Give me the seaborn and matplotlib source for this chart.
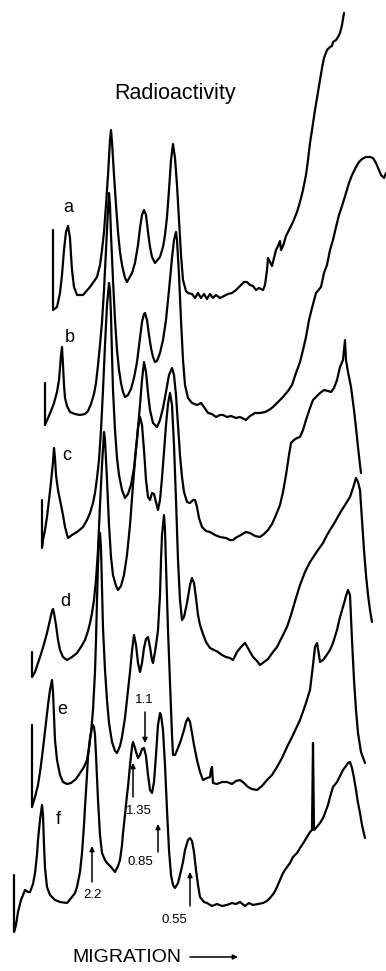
import matplotlib
matplotlib.use("Agg")
import matplotlib.pyplot as plt
import seaborn as sns
import pandas as pd

# ---- data: traces (migration position, signal level on the sheet) ----
a_x = [53, 53, 57, 60, 62, 64, 66, 68, 70, 71, 72, 74, 77, 83, 90, 97, 100, 102, 104, 106, 108, 110, 111, 112, 114, 116, 118,
       120, 122, 125, 127, 132, 135, 138, 140, 142, 144, 146, 148, 150, 152, 155, 160, 163, 165, 167, 169, 171, 173, 175, 177,
       179, 181, 183, 186, 188, 192, 195, 198, 201, 204, 207, 210, 213, 216, 220, 224, 228, 232, 236, 240, 244, 247, 250, 253,
       256, 259, 263, 265, 267, 268, 270, 272, 274, 276, 278, 280, 281, 283, 286, 290, 293, 297, 300, 303, 306, 308, 310, 312,
       315, 318, 320, 322, 324, 327, 330, 332, 333, 336, 338, 340, 342, 344]
a_y = [230, 310, 307, 293, 275, 250, 232, 226, 238, 255, 270, 287, 295, 295, 287, 277, 265, 250, 232, 205, 175, 140, 130, 142,
       175, 205, 232, 252, 265, 278, 282, 273, 263, 245, 228, 215, 210, 215, 232, 247, 257, 263, 257, 247, 235, 217, 190, 160,
       144, 158, 185, 220, 255, 280, 291, 293, 294, 298, 293, 298, 294, 299, 294, 298, 295, 298, 296, 294, 293, 290, 286, 282,
       282, 285, 286, 290, 288, 290, 285, 270, 258, 262, 266, 258, 250, 246, 241, 250, 246, 236, 228, 222, 212, 202, 190, 175,
       160, 143, 130, 110, 92, 80, 68, 58, 50, 47, 46, 42, 40, 37, 33, 25, 13]

b_x = [45, 45, 48, 51, 54, 57, 59, 60, 61, 62, 63, 64, 65, 67, 70, 75, 80, 85, 88, 91, 94, 96, 98, 100, 102, 104, 106, 108,
       109, 110, 111, 113, 115, 117, 119, 121, 123, 125, 128, 131, 134, 137, 140, 142, 144, 145, 147, 149, 151, 153, 155, 157,
       160, 163, 166, 169, 172, 174, 176, 177, 179, 181, 183, 185, 188, 192, 197, 201, 204, 208, 212, 216, 220, 223, 227, 231,
       236, 240, 246, 250, 255, 260, 265, 269, 273, 278, 283, 288, 292, 296, 300, 303, 306, 309, 312, 316, 321, 324, 327, 330,
       333, 336, 339, 342, 346, 349, 352, 356, 359, 362, 366, 370, 373, 376, 379, 381, 384, 386]
b_y = [383, 425, 418, 411, 403, 392, 380, 368, 355, 347, 365, 385, 398, 406, 412, 414, 415, 414, 411, 404, 394, 383, 365, 345,
       322, 290, 250, 210, 193, 205, 235, 280, 320, 350, 370, 383, 392, 397, 395, 389, 378, 362, 338, 322, 314, 313, 320, 335,
       348, 357, 362, 361, 353, 340, 320, 290, 258, 240, 232, 240, 275, 320, 360, 385, 398, 403, 405, 403, 407, 413, 414, 417,
       415, 415, 417, 416, 418, 417, 420, 416, 413, 413, 412, 410, 407, 402, 397, 391, 385, 373, 362, 350, 337, 320, 308, 293,
       287, 273, 265, 250, 240, 227, 215, 206, 193, 183, 175, 167, 162, 159, 157, 157, 158, 163, 170, 175, 178, 173]

c_x = [42, 42, 43, 45, 47, 49, 51, 53, 54, 55, 56, 58, 60, 63, 65, 68, 72, 77, 83, 87, 90, 93, 95, 97, 99, 101, 103, 105,
       107, 109, 110, 111, 112, 113, 115, 117, 119, 122, 125, 128, 131, 134, 137, 140, 142, 144, 146, 148, 150, 153, 157, 160,
       163, 166, 169, 172, 174, 176, 178, 180, 182, 184, 187, 190, 193, 195, 197, 199, 202, 206, 210, 215, 220, 226, 230, 233,
       237, 241, 246, 250, 255, 260, 264, 268, 272, 276, 280, 283, 286, 289, 291, 294, 297, 300, 303, 306, 310, 313, 316, 320,
       324, 328, 331, 334, 337, 340, 343, 345, 346, 348, 351, 354, 356, 358, 360, 361]
c_y = [500, 548, 540, 530, 517, 500, 482, 462, 448, 458, 475, 490, 500, 515, 527, 538, 535, 532, 527, 520, 513, 503, 493, 478,
       460, 430, 390, 345, 305, 283, 290, 315, 355, 390, 430, 458, 475, 490, 498, 494, 485, 468, 440, 405, 380, 362, 372, 393,
       410, 423, 427, 420, 408, 392, 375, 368, 375, 395, 425, 455, 477, 492, 502, 503, 500, 500, 507, 518, 527, 531, 532, 535,
       537, 538, 540, 540, 537, 535, 532, 533, 536, 537, 534, 530, 524, 515, 505, 492, 475, 455, 443, 440, 438, 437, 430, 420,
       408, 400, 397, 393, 390, 391, 392, 388, 380, 367, 360, 340, 360, 372, 387, 410, 428, 447, 465, 473]

d_x = [32, 32, 35, 38, 41, 44, 47, 50, 52, 53, 54, 56, 58, 60, 63, 67, 72, 77, 81, 85, 88, 90, 92, 94, 96, 98, 100, 102, 104,
       105, 107, 109, 111, 113, 116, 118, 121, 124, 127, 130, 133, 136, 138, 140, 142, 144, 146, 148, 150, 152, 154, 156, 158,
       160, 162, 164, 166, 168, 170, 172, 174, 176, 178, 180, 182, 184, 187, 190, 192, 194, 196, 198, 200, 203, 206, 210, 214,
       218, 222, 226, 230, 233, 237, 241, 245, 249, 253, 257, 260, 264, 268, 273, 277, 282, 287, 291, 296, 300, 305, 310, 314,
       318, 323, 327, 330, 335, 340, 345, 350, 353, 356, 358, 360, 362, 364, 366, 368, 370, 372]
d_y = [652, 677, 672, 663, 654, 644, 633, 620, 611, 609, 613, 625, 640, 650, 657, 660, 657, 653, 647, 640, 631, 623, 613, 600,
       580, 550, 505, 465, 432, 440, 480, 525, 557, 575, 586, 590, 586, 575, 555, 525, 485, 448, 428, 417, 425, 450, 480, 497,
       500, 493, 494, 502, 510, 500, 478, 452, 425, 404, 393, 405, 445, 500, 560, 600, 620, 617, 603, 585, 578, 583, 598, 615,
       625, 634, 642, 648, 650, 652, 655, 657, 658, 660, 652, 647, 643, 650, 657, 661, 665, 662, 659, 652, 647, 637, 627, 615,
       598, 585, 572, 562, 556, 550, 543, 535, 530, 522, 513, 505, 497, 488, 478, 482, 490, 520, 550, 575, 595, 610, 622]

e_x = [32, 32, 35, 38, 40, 42, 44, 46, 48, 50, 52, 53, 54, 55, 57, 60, 63, 67, 71, 76, 80, 84, 87, 89, 91, 93, 95, 96, 97, 98,
       99, 100, 101, 102, 103, 105, 107, 109, 112, 115, 117, 120, 122, 125, 127, 130, 132, 134, 136, 138, 140, 142, 144, 146,
       148, 150, 152, 153, 155, 157, 158, 160, 161, 162, 164, 165, 166, 168, 170, 172, 173, 175, 178, 181, 184, 186, 188, 190,
       192, 194, 197, 200, 203, 207, 210, 211, 212, 213, 217, 222, 227, 232, 236, 240, 244, 248, 252, 257, 262, 267, 272, 277,
       282, 287, 293, 300, 305, 310, 313, 315, 317, 319, 320, 323, 326, 330, 333, 337, 340, 343, 346, 348, 350, 352, 354, 356,
       358, 361, 365]
e_y = [725, 807, 797, 785, 772, 757, 740, 722, 705, 690, 680, 692, 715, 740, 760, 775, 782, 784, 783, 779, 773, 767, 760, 748,
       733, 710, 672, 640, 600, 565, 540, 533, 548, 590, 628, 670, 700, 723, 742, 751, 753, 746, 737, 718, 700, 672, 651, 635,
       645, 663, 672, 663, 648, 639, 637, 647, 660, 663, 652, 638, 630, 595, 560, 535, 515, 530, 565, 630, 683, 735, 755, 755,
       748, 740, 730, 722, 718, 722, 733, 745, 760, 772, 780, 778, 777, 770, 767, 783, 784, 782, 782, 784, 781, 780, 783, 787,
       789, 790, 786, 780, 775, 767, 758, 747, 735, 720, 706, 690, 665, 647, 643, 655, 662, 660, 656, 650, 643, 630, 617, 607,
       596, 590, 595, 640, 680, 710, 733, 752, 763]

f_x = [14, 14, 16, 18, 21, 25, 28, 30, 33, 35, 37, 38, 40, 42, 43, 44, 45, 47, 50, 55, 60, 67, 72, 75, 77, 80, 82, 84, 85, 87,
       88, 90, 92, 93, 94, 95, 96, 98, 100, 102, 105, 107, 111, 115, 118, 120, 122, 123, 125, 127, 128, 130, 132, 133, 135, 136,
       138, 140, 142, 144, 146, 148, 150, 152, 154, 156, 158, 160, 161, 163, 165, 167, 169, 171, 173, 175, 178, 180, 183, 185,
       188, 190, 192, 194, 196, 198, 200, 204, 207, 212, 217, 222, 227, 232, 236, 240, 245, 249, 253, 258, 263, 267, 270, 274,
       277, 280, 283, 287, 290, 293, 297, 300, 304, 307, 310, 312, 313, 314, 316, 320, 323, 325, 328, 330, 333, 337, 340, 343,
       346, 348, 350, 352, 354, 356, 358, 360, 362, 365]
f_y = [875, 932, 925, 912, 900, 890, 892, 892, 884, 873, 855, 840, 820, 805, 815, 845, 868, 887, 895, 900, 902, 903, 897, 893,
       887, 872, 853, 825, 807, 775, 757, 738, 727, 725, 727, 735, 755, 800, 835, 853, 860, 863, 867, 872, 866, 860, 845, 833,
       815, 795, 787, 765, 747, 742, 748, 752, 758, 755, 749, 748, 756, 775, 790, 793, 782, 755, 725, 713, 715, 730, 765, 810,
       850, 875, 885, 888, 883, 875, 862, 850, 840, 838, 841, 852, 870, 885, 897, 902, 903, 906, 904, 906, 905, 903, 904, 902,
       906, 903, 905, 904, 903, 901, 898, 893, 887, 880, 873, 867, 863, 857, 853, 848, 842, 837, 832, 830, 743, 830, 828, 823,
       818, 813, 805, 797, 787, 782, 776, 770, 766, 763, 762, 768, 778, 790, 803, 813, 825, 838]

trace_names = ["a", "b", "c", "d", "e", "f"]
trace_xs = [a_x, b_x, c_x, d_x, e_x, f_x]
trace_ys = [a_y, b_y, c_y, d_y, e_y, f_y]
label_x = [68, 70, 67, 65, 62, 58]
label_y = [208, 337, 455, 602, 710, 820]

# size markers on trace f: label, label position, arrow tail, arrow head
marker_text = ["1.1", "1.35", "0.85", "2.2", "0.55"]
marker_text_x = [144, 139, 140, 92, 174]
marker_text_y = [700, 811, 862, 895, 920]
marker_x = [145, 133, 158, 92, 190]
marker_tail_y = [712, 797, 852, 882, 906]
marker_head_y = [743, 763, 824, 846, 872]

# ---- figure ----
sns.set_theme(style="white")
plt.rcParams["font.family"] = ["Liberation Sans", "DejaVu Sans"]

fig = plt.figure(figsize=(3.86, 9.71), dpi=100)
ax = fig.add_axes([0, 0, 1, 1])

frames = []
for name, xs, ys in zip(trace_names, trace_xs, trace_ys):
    frames.append(pd.DataFrame({"migration": xs, "signal": ys, "trace": name}))
df = pd.concat(frames, ignore_index=True)

for name in trace_names:
    sub = df[df["trace"] == name]
    sns.lineplot(data=sub, x="migration", y="signal", sort=False, estimator=None,
                 color="black", linewidth=1.6, ax=ax, legend=False)

for t, x, y in zip(trace_names, label_x, label_y):
    ax.text(x, y, t, fontsize=13, ha="center", va="center", color="black")

for t, tx, ty, mx, y0, y1 in zip(marker_text, marker_text_x, marker_text_y,
                                   marker_x, marker_tail_y, marker_head_y):
    ax.text(tx, ty, t, fontsize=9.5, ha="center", va="center", color="black")
    ax.annotate("", xy=(mx, y1), xytext=(mx, y0),
                arrowprops=dict(arrowstyle="-|>", color="black", lw=1.1,
                                mutation_scale=7, shrinkA=0, shrinkB=0))

ax.text(175, 94, "Radioactivity", fontsize=15.5, ha="center", va="center", color="black")
ax.text(72, 957, "MIGRATION", fontsize=14, ha="left", va="center", color="black")
ax.annotate("", xy=(238, 957), xytext=(190, 957),
            arrowprops=dict(arrowstyle="-|>", color="black", lw=1.1,
                            mutation_scale=7, shrinkA=0, shrinkB=0))

ax.set_xlim(0, 386)
ax.set_ylim(971, 0)
ax.set_axis_off()

fig.savefig("out.png", dpi=100, facecolor="white")
